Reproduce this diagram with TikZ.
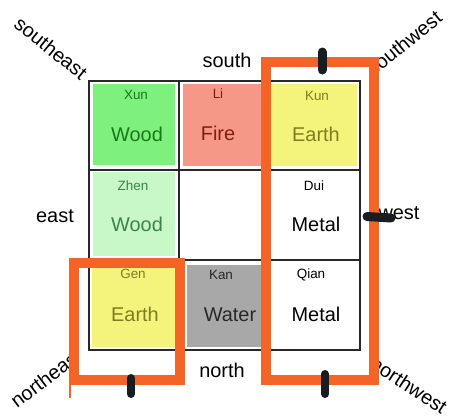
\documentclass[tikz,border=0pt]{standalone}
\usepackage{fontspec}
\setmainfont{Liberation Sans}
\definecolor{orng}{RGB}{243,100,38}
\definecolor{xunc}{RGB}{125,240,125}
\definecolor{xunt}{RGB}{25,120,25}
\definecolor{lic}{RGB}{245,152,135}
\definecolor{lit}{RGB}{130,30,15}
\definecolor{kunc}{RGB}{244,244,125}
\definecolor{kunt}{RGB}{125,125,30}
\definecolor{zhenc}{RGB}{200,248,200}
\definecolor{zhent}{RGB}{60,130,75}
\definecolor{kanc}{RGB}{168,168,168}
\definecolor{kant}{RGB}{40,40,40}
\definecolor{markc}{RGB}{25,28,32}
\definecolor{gridc}{RGB}{40,40,40}
\begin{document}
\begin{tikzpicture}[x=1bp,y=-1bp,
  bigtxt/.style={font=\fontsize{20}{24}\selectfont, anchor=base, inner sep=0pt},
  smalltxt/.style={font=\fontsize{13.5}{16}\selectfont, anchor=base, inner sep=0pt},
  dirtxt/.style={font=\fontsize{20}{24}\selectfont, inner sep=0pt},
  orangeframe/.style={draw=orng, line width=10bp},
  markstroke/.style={draw=markc, line width=8bp, line cap=round},
  gridline/.style={draw=gridc, line width=1.2bp}]
\useasboundingbox[fill=white] (0,0) rectangle (450,418);
% diagonal direction labels
\node[dirtxt, rotate=-39] (se) at (51,48) {southeast};
\node[dirtxt, rotate=39] (sw) at (404,43) {southwest};
\node[dirtxt, rotate=37] (ne) at (46,378) {northeast};
\node[dirtxt, rotate=-33] (nw) at (409,385) {northwest};
% white interiors of the orange frames
\fill[white] (266,62) rectangle (374,380);
\fill[white] (74,263) rectangle (180,380);
% cell fills
\fill[xunc] (93,84) rectangle (175,165);
\fill[lic] (183,84) rectangle (262,166);
\fill[kunc] (270,84) rectangle (357,166);
\fill[zhenc] (93,172) rectangle (175,256);
\fill[kunc] (92,265) rectangle (175,347);
\fill[kanc] (187,265) rectangle (263,347);
% grid
\draw[gridline] (89,81) rectangle (360,350);
\draw[gridline] (179,81) -- (179,350);
\draw[gridline] (268,81) -- (268,350);
\draw[gridline] (89,170) -- (360,170);
\draw[gridline] (89,260) -- (360,260);
% cell texts
\node[smalltxt, text=xunt] (xun) at (136,99) {Xun};
\node[bigtxt, text=xunt] (xunel) at (137,141) {Wood};
\node[smalltxt, text=lit] (li) at (218,98) {Li};
\node[bigtxt, text=lit] (liel) at (218,140) {Fire};
\node[smalltxt, text=kunt] (kun) at (317,100) {Kun};
\node[bigtxt, text=kunt] (kunel) at (316,141) {Earth};
\node[smalltxt, text=zhent] (zhen) at (133,190) {Zhen};
\node[bigtxt, text=zhent] (zhenel) at (137,231) {Wood};
\node[smalltxt, text=black] (dui) at (314,190) {Dui};
\node[bigtxt, text=black] (duiel) at (316,231) {Metal};
\node[smalltxt, text=kunt] (gen) at (133,278) {Gen};
\node[bigtxt, text=kunt] (genel) at (135,321) {Earth};
\node[smalltxt, text=kant] (kan) at (221,279) {Kan};
\node[bigtxt, text=kant] (kanel) at (230,321) {Water};
\node[smalltxt, text=black] (qian) at (311,278) {Qian};
\node[bigtxt, text=black] (qianel) at (316,321) {Metal};
% side labels
\node[bigtxt] (south) at (227,67) {south};
\node[bigtxt] (east) at (55,222) {east};
\node[bigtxt] (west) at (399,219) {west};
\node[bigtxt] (north) at (222,377) {north};
% orange frames
\draw[orangeframe] (265.5,62) rectangle (374,380);
\draw[orangeframe] (74,263) -- (180,263) -- (180,380) -- (74,380) -- cycle;
\draw[orng, line width=2bp] (70,385) -- (70,398);
% marker strokes
\draw[markstroke, line width=9bp] (322,52) -- (322,70);
\draw[markstroke, line width=9bp] (367,216.5) -- (391,218);
\draw[markstroke] (131,378) -- (131,394);
\draw[markstroke] (325,374) -- (325,394);
\end{tikzpicture}
\end{document}
